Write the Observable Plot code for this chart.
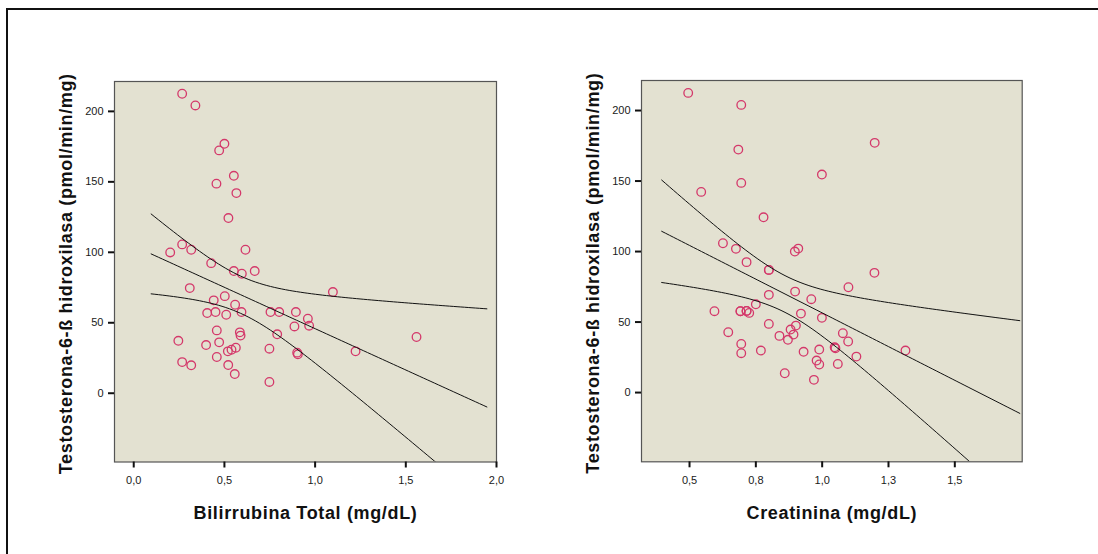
<!DOCTYPE html>
<html>
<head>
<meta charset="utf-8">
<script src="https://cdn.jsdelivr.net/npm/d3@7"></script>
<script src="https://cdn.jsdelivr.net/npm/@observablehq/plot@0.6"></script>
<style>
  html, body { margin: 0; padding: 0; background: #fff; }
  #chart { position: relative; width: 1098px; height: 554px; overflow: hidden; }
  #chart .box { position: absolute; left: 6px; top: 8px; width: 1200px; height: 700px;
    border-top: 2px solid #111; border-left: 2px solid #111; }
  #chart .panel { position: absolute; top: 0; }
  #chart text.axis-title { letter-spacing: 0.65px; }
</style>
</head>
<body>
<div id="chart"><div class="box"></div></div>
<script>
// Total bilirubin (mg/dL) vs testosterone 6-beta hydroxylase activity (pmol/min/mg)
const bilirrubina = [
  0.267, 0.340, 0.500, 0.471, 0.552, 0.456, 0.566, 0.522, 0.267, 0.201,
  0.317, 0.616, 0.427, 0.552, 0.596, 0.667, 0.309, 1.098, 0.502, 0.441,
  0.559, 0.405, 0.451, 0.510, 0.594, 0.754, 0.802, 0.894, 0.960, 0.967,
  0.886, 0.458, 0.585, 0.589, 0.791, 1.559, 0.246, 0.471, 0.399, 0.563,
  0.539, 0.519, 0.748, 0.901, 0.905, 1.223, 0.267, 0.317, 0.458, 0.521,
  0.557, 0.748
];
const actividadBil = [
  212.5, 204.2, 177.0, 172.3, 154.3, 148.7, 142.0, 124.3, 105.6, 99.9,
  101.8, 101.8, 92.3, 86.7, 84.8, 86.7, 74.6, 71.8, 68.9, 65.9,
  62.8, 56.9, 57.6, 55.7, 57.6, 57.6, 57.6, 57.6, 52.9, 47.9,
  47.4, 44.6, 43.2, 40.9, 41.8, 39.9, 37.2, 36.1, 34.2, 32.3,
  30.9, 29.7, 31.6, 28.8, 27.6, 29.7, 22.1, 19.8, 25.7, 20.0,
  13.6, 8.0
];

// Serum creatinine (mg/dL) vs the same enzyme activity (last three sit under other markers)
const creatinina = [
  0.495, 0.695, 1.198, 0.684, 0.999, 0.695, 0.544, 0.779, 0.626, 0.675,
  0.897, 0.910, 0.715, 0.799, 1.197, 1.099, 0.898, 0.799, 0.959, 0.750,
  0.594, 0.692, 0.715, 0.725, 0.920, 0.999, 0.799, 0.901, 0.881, 0.892,
  0.839, 0.871, 1.078, 1.098, 0.646, 0.695, 0.695, 0.769, 0.930, 0.989,
  1.047, 1.050, 1.314, 1.129, 0.979, 0.989, 1.059, 0.859, 0.969,
  0.799, 0.692, 0.715
];
const actividadCre = [
  212.5, 204.0, 177.1, 172.3, 154.6, 148.7, 142.3, 124.3, 105.9, 101.9,
  100.0, 102.1, 92.5, 87.0, 84.9, 74.7, 71.6, 69.3, 66.2, 62.6,
  57.7, 57.7, 57.9, 56.5, 56.0, 53.0, 48.7, 47.5, 44.7, 41.1,
  40.2, 37.4, 42.1, 36.2, 42.8, 34.5, 27.9, 29.8, 28.9, 30.5,
  32.1, 31.4, 29.8, 25.5, 22.7, 19.9, 20.3, 13.7, 9.0,
  87.0, 57.7, 57.9
];

const yTicks = [0, 50, 100, 150, 200];
const xTicksBil = [0, 0.5, 1.0, 1.5, 2.0];
const xTicksCre = [0.5, 0.75, 1.0, 1.25, 1.5];

const yTitle = "Testosterona-6-ß hidroxilasa (pmol/min/mg)";
const xTitleBil = "Bilirrubina Total (mg/dL)";
const xTitleCre = "Creatinina (mg/dL)";

// Least-squares fit with 95% confidence limits for the mean response
function fitLines(xs, ys, from, to, steps = 90) {
  const n = xs.length;
  const mx = d3.mean(xs), my = d3.mean(ys);
  let sxx = 0, sxy = 0;
  for (let i = 0; i < n; i++) {
    sxx += (xs[i] - mx) ** 2;
    sxy += (xs[i] - mx) * (ys[i] - my);
  }
  const b = sxy / sxx, a = my - b * mx;
  const sse = d3.sum(xs, (x, i) => (ys[i] - a - b * x) ** 2);
  const s = Math.sqrt(sse / (n - 2));
  const t = 2.01; // Student t (0.975) for roughly 50 degrees of freedom
  const rows = [];
  for (let k = 0; k <= steps; k++) {
    const x = from + (to - from) * k / steps;
    const yhat = a + b * x;
    const h = t * s * Math.sqrt(1 / n + (x - mx) ** 2 / sxx);
    rows.push({x, y: yhat, curve: "fit"});
    rows.push({x, y: yhat - h, curve: "lower"});
    rows.push({x, y: yhat + h, curve: "upper"});
  }
  return rows;
}

const comma1 = d => d.toFixed(1).replace(".", ",");

function panel({xs, ys, xDomain, yDomain, xTicks, fitFrom, fitTo, xTitle, margin, left}) {
  const points = xs.map((x, i) => ({x, y: ys[i]}));
  const fig = Plot.plot({
    width: 549,
    height: 554,
    marginLeft: margin[0],
    marginRight: margin[1],
    marginTop: margin[2],
    marginBottom: margin[3],
    style: {background: "transparent", fontFamily: "'Liberation Sans', Arial, sans-serif", color: "#111"},
    x: {domain: xDomain, axis: null},
    y: {domain: yDomain, axis: null},
    marks: [
      Plot.frame({fill: "#e3e1d1", stroke: null}),
      Plot.dot(points, {x: "x", y: "y", r: 4.3, stroke: "#d4386a", strokeWidth: 1.3, fill: null}),
      Plot.line(fitLines(xs, ys, fitFrom, fitTo), {x: "x", y: "y", z: "curve", stroke: "#111", strokeWidth: 1, clip: true}),
      Plot.frame({stroke: "#555", strokeWidth: 1.2}),
      Plot.axisY({ticks: yTicks, tickSize: 6, tickPadding: 5, strokeWidth: 2, fontSize: 11, label: null, fill: "#1a1a1a"}),
      Plot.axisX({ticks: xTicks, tickFormat: comma1, tickSize: 6, tickPadding: 8, strokeWidth: 2, fontSize: 11, label: null, fill: "#1a1a1a"}),
      Plot.text([yTitle], {frameAnchor: "left", text: d => d, dx: -48.5, dy: 2, rotate: -90,
        textAnchor: "middle", lineAnchor: "middle", fontSize: 18, fontWeight: "bold", fill: "#111"}),
      Plot.text([xTitle], {frameAnchor: "bottom", text: d => d, dy: 51.5,
        textAnchor: "middle", lineAnchor: "middle", fontSize: 18, fontWeight: "bold", fill: "#111"})
    ]
  });
  // axis titles are the only 18px texts in the panel
  d3.select(fig).selectAll("text")
    .filter(function () { return this.closest("g") && this.closest("g").getAttribute("font-size") === "18"; })
    .classed("axis-title", true);
  fig.classList.add("panel");
  fig.style.left = left + "px";
  document.getElementById("chart").appendChild(fig);
}

panel({
  xs: bilirrubina, ys: actividadBil,
  xDomain: [-0.106, 2.0], yDomain: [-48.8, 221.2],
  xTicks: xTicksBil, fitFrom: 0.096, fitTo: 1.947,
  xTitle: xTitleBil, margin: [114, 53, 81, 92.5], left: 0
});
panel({
  xs: creatinina, ys: actividadCre,
  xDomain: [0.319, 1.754], yDomain: [-49.1, 221.3],
  xTicks: xTicksCre, fitFrom: 0.395, fitTo: 1.745,
  xTitle: xTitleCre, margin: [92, 76.3, 80, 92.7], left: 549
});
</script>
</body>
</html>
